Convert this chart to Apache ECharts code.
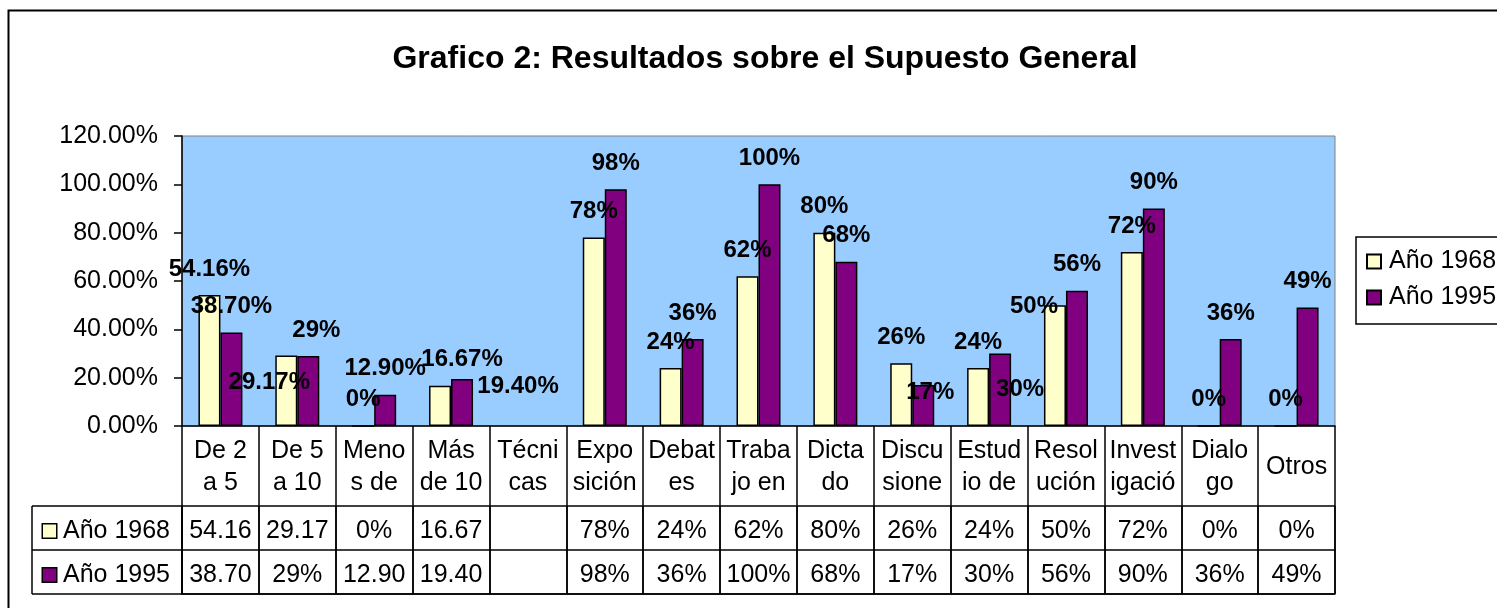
<!DOCTYPE html>
<html>
<head>
<meta charset="utf-8">
<script src="https://cdn.jsdelivr.net/npm/echarts@6/dist/echarts.min.js"></script>
<style>
  html, body { margin: 0; padding: 0; background: #fff; }
  #main { width: 1497px; height: 608px; }
</style>
</head>
<body>
<div id="main"></div>
<script>
// categorias (texto partido como en la tabla de Excel)
const categories = ['De 2\na 5', 'De 5\na 10', 'Meno\ns de', 'Más\nde 10', 'Técni\ncas', 'Expo\nsición', 'Debat\nes',
  'Traba\njo en', 'Dicta\ndo', 'Discu\nsione', 'Estud\nio de', 'Resol\nución', 'Invest\nigació', 'Dialo\ngo', 'Otros']
const seriesNames = ['Año 1968', 'Año 1995']
const values1968 = [54.16, 29.17, 0, 16.67, null, 78, 24, 62, 80, 26, 24, 50, 72, 0, 0]
const values1995 = [38.70, 29, 12.90, 19.40, null, 98, 36, 100, 68, 17, 30, 56, 90, 36, 49]
// textos de la tabla de datos
const table1968 = ['54.16', '29.17', '0%', '16.67', '', '78%', '24%', '62%', '80%', '26%', '24%', '50%', '72%', '0%', '0%']
const table1995 = ['38.70', '29%', '12.90', '19.40', '', '98%', '36%', '100%', '68%', '17%', '30%', '56%', '90%', '36%', '49%']
const yTicks = [0, 20, 40, 60, 80, 100, 120]

const FONT = '"Liberation Sans", Arial, sans-serif'
const COLOR_1968 = '#FFFFCC'
const COLOR_1995 = '#800080'

// etiquetas desplazadas como en el original
const labelShift1968 = {1: [-17, 53], 3: [22, 0], 11: [-21, 27]}
const labelShift1995 = {1: [8, 0], 3: [56, 33], 9: [7, 33], 10: [20, 62]}

function barText(t) {
  if (!t) return ''
  return t.endsWith('%') ? t : t + '%'
}

function barData(values, texts, shifts) {
  return values.map((v, i) => {
    const item = {value: v, labelText: barText(texts[i])}
    if (shifts[i]) item.label = {offset: shifts[i]}
    return item
  })
}

const barLabel = {
  show: true,
  position: 'top',
  distance: 14,
  fontFamily: FONT,
  fontSize: 24,
  fontWeight: 'bold',
  color: '#000',
  formatter: p => p.data.labelText
}

function cellLabel(texts) {
  return {
    show: true,
    position: 'inside',
    fontFamily: FONT,
    fontSize: 25,
    color: '#000',
    opacity: 1,
    textBorderWidth: 0,
    offset: [0, 3],
    formatter: p => texts[p.dataIndex]
  }
}

const chart = echarts.init(document.getElementById('main'))
chart.setOption({
  backgroundColor: '#fff',
  animation: false,
  title: {
    text: 'Grafico 2: Resultados sobre el Supuesto General',
    left: 760,
    top: 38,
    textAlign: 'center',
    textStyle: {fontFamily: FONT, fontSize: 32, fontWeight: 'bold', color: '#000'}
  },
  legend: {
    data: seriesNames,
    orient: 'vertical',
    left: 1356,
    top: 237,
    padding: [12, 12, 14, 10],
    itemGap: 11,
    itemWidth: 14,
    itemHeight: 14,
    icon: 'rect',
    borderColor: '#000',
    borderWidth: 1.5,
    textStyle: {fontFamily: FONT, fontSize: 25, color: '#000', padding: [0, 0, 0, 3]}
  },
  graphic: [
    // marco exterior del grafico
    {type: 'rect', shape: {x: 8.5, y: 10.5, width: 1700, height: 800}, style: {fill: 'none', stroke: '#000', lineWidth: 2}},
    // borde izquierdo de la tabla
    {type: 'line', shape: {x1: 32, y1: 506, x2: 32, y2: 594}, style: {stroke: '#000', lineWidth: 1.5}}
  ],
  grid: [
    {left: 182, right: 162, top: 136, height: 290, show: true, backgroundColor: '#99CCFF', borderColor: '#808080', borderWidth: 1},
    {left: 182, right: 162, top: 506, height: 88}
  ],
  xAxis: [
    {
      type: 'category',
      data: categories,
      axisLine: {lineStyle: {color: '#000', width: 1.5}},
      axisTick: {show: true, interval: 0, length: 168, lineStyle: {color: '#000', width: 1.5}},
      axisLabel: {interval: 0, margin: 41, verticalAlign: 'middle', fontFamily: FONT, fontSize: 25, lineHeight: 32, color: '#000'},
      splitLine: {show: false}
    },
    {
      type: 'category',
      gridIndex: 1,
      data: categories,
      axisLine: {lineStyle: {color: '#000', width: 1.5}},
      axisTick: {show: false},
      axisLabel: {show: false},
      splitLine: {show: true, interval: 0, lineStyle: {color: '#000', width: 1.5}}
    }
  ],
  yAxis: [
    {
      type: 'value',
      min: yTicks[0],
      max: yTicks[yTicks.length - 1],
      interval: 20,
      axisLine: {show: true, lineStyle: {color: '#000', width: 1.5}},
      axisTick: {show: true, length: 8, lineStyle: {color: '#000', width: 1.5}},
      axisLabel: {margin: 24, fontFamily: FONT, fontSize: 25, color: '#000', formatter: v => v.toFixed(2) + '%'},
      splitLine: {show: false}
    },
    {
      type: 'category',
      gridIndex: 1,
      data: seriesNames,
      inverse: true,
      axisLine: {show: true, lineStyle: {color: '#000', width: 1.5}},
      axisTick: {show: true, interval: 0, length: 150, lineStyle: {color: '#000', width: 1.5}},
      axisLabel: {
        margin: 12,
        padding: [6, 0, 0, 0],
        fontFamily: FONT,
        fontSize: 25,
        color: '#000',
        formatter: (v, i) => (i === 0 ? '{a| }' : '{b| }') + ' ' + v,
        rich: {
          a: {width: 13, height: 13, backgroundColor: COLOR_1968, borderColor: '#000', borderWidth: 1.5},
          b: {width: 13, height: 13, backgroundColor: COLOR_1995, borderColor: '#000', borderWidth: 1.5}
        }
      },
      splitLine: {show: true, interval: 0, lineStyle: {color: '#000', width: 1.5}}
    }
  ],
  series: [
    {
      name: seriesNames[0],
      type: 'bar',
      barWidth: 22,
      barGap: '0%',
      itemStyle: {color: COLOR_1968, borderColor: '#000', borderWidth: 1.5},
      label: barLabel,
      data: barData(values1968, table1968, labelShift1968)
    },
    {
      name: seriesNames[1],
      type: 'bar',
      barWidth: 22,
      barGap: '0%',
      itemStyle: {color: COLOR_1995, borderColor: '#000', borderWidth: 1.5},
      label: barLabel,
      data: barData(values1995, table1995, labelShift1995)
    },
    {
      name: 'tabla1968',
      type: 'scatter',
      xAxisIndex: 1,
      yAxisIndex: 1,
      symbolSize: 1,
      silent: true,
      itemStyle: {color: '#fff', opacity: 1},
      label: cellLabel(table1968),
      data: table1968.map((t, i) => [i, 0])
    },
    {
      name: 'tabla1995',
      type: 'scatter',
      xAxisIndex: 1,
      yAxisIndex: 1,
      symbolSize: 1,
      silent: true,
      itemStyle: {color: '#fff', opacity: 1},
      label: cellLabel(table1995),
      data: table1995.map((t, i) => [i, 1])
    }
  ]
})
</script>
</body>
</html>
